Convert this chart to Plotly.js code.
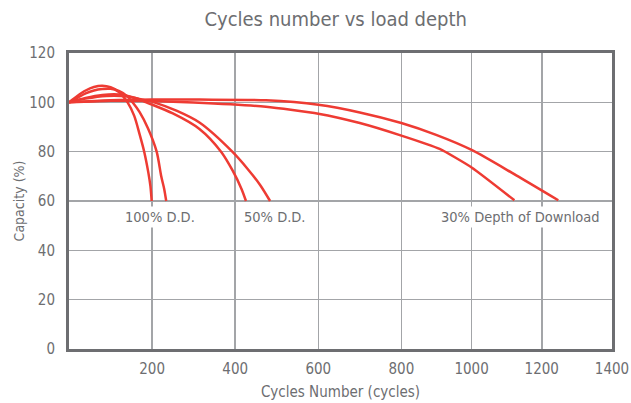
<!DOCTYPE html>
<html>
<head>
<meta charset="utf-8">
<script src="https://cdn.plot.ly/plotly-3.0.1.min.js"></script>
<style>
html, body { margin: 0; padding: 0; background: #ffffff; }
#chart { width: 631px; height: 403px; }
</style>
</head>
<body>
<div id="chart"></div>
<script>
// ---- data ----
const chartTitle = 'Cycles number vs load depth';
const xAxisTitle = 'Cycles Number (cycles)';
const yAxisTitle = 'Capacity (%)';

const xTickValues = [200, 400, 600, 800, 1000, 1200, 1400];
const xTickLabels = ['200', '400', '600', '800', '1000', '1200', '1400'];
const yTickValues = [0, 20, 40, 60, 80, 100, 120];
const yTickLabels = ['0', '20', '40', '60', '80', '100', '120'];

// 100% depth of discharge – two curves
const dd100aCycles = [0, 20, 40, 60, 80, 100, 120, 141, 157, 170, 181, 191, 196, 199];
const dd100aCapacity = [100, 102.6, 104.8, 106.2, 106.7, 106.1, 104.2, 100, 94.5, 87, 80, 71.5, 66, 60];
const dd100bCycles = [0, 20, 40, 60, 80, 100, 120, 140, 153, 170, 190, 211, 222, 229, 234];
const dd100bCapacity = [100, 101.8, 103.6, 104.8, 105.4, 105.5, 104.6, 102.5, 100, 96, 89.5, 80, 70, 65, 60];

// 50% depth of discharge – two curves
const dd50aCycles = [0, 40, 80, 120, 160, 186, 250, 314, 366, 394, 415, 426];
const dd50aCapacity = [100, 101.8, 103, 103.2, 101.8, 100, 95.5, 89.2, 80, 72.3, 65, 60];
const dd50bCycles = [0, 40, 90, 140, 180, 205, 260, 314, 393, 430, 460, 484];
const dd50bCapacity = [100, 101.5, 102.6, 102.4, 101, 100, 96.5, 91.8, 80, 73, 66.5, 60];

// 30% depth of discharge – two curves
const dd30aCycles = [0, 100, 200, 300, 474, 600, 700, 800, 909, 1000, 1122];
const dd30aCapacity = [100, 100.6, 100.5, 99.9, 98.2, 95.4, 91.6, 86.5, 81.1, 73.6, 60.3];
const dd30bCycles = [0, 100, 200, 314, 474, 600, 700, 800, 899, 1000, 1126, 1247];
const dd30bCapacity = [100, 100.8, 101.1, 101.1, 100.8, 99, 95.9, 91.6, 86.8, 80.7, 70.5, 60.3];

// curve labels
const labelTexts = ['100% D.D.', '50% D.D.', '30% Depth of Download'];
const labelCycles = [218, 496, 1140];
const labelCapacity = [53.5, 53.5, 53.5];

// ---- the reference x axis is compressed above 800 cycles ----
const xBreak = 800;
const xScaleAbove = 0.845;
function axisX(v) { return v <= xBreak ? v : xBreak + (v - xBreak) * xScaleAbove; }

const red = '#ee3b33';
const grey = '#6d6e71';
const font = '"DejaVu Sans Condensed", "Liberation Sans Narrow", "Roboto", sans-serif';

function curve(xs, ys, smooth) {
  return {
    type: 'scatter', mode: 'lines',
    x: xs.map(axisX), y: ys,
    line: { color: red, width: 2.5, shape: 'spline', smoothing: smooth },
    hoverinfo: 'skip', showlegend: false
  };
}

const traces = [
  curve(dd100aCycles, dd100aCapacity, 0.8),
  curve(dd100bCycles, dd100bCapacity, 0.8),
  curve(dd50aCycles, dd50aCapacity, 0.8),
  curve(dd50bCycles, dd50bCapacity, 0.8),
  curve(dd30aCycles, dd30aCapacity, 0.5),
  curve(dd30bCycles, dd30bCapacity, 0.8)
];

const annotations = labelTexts.map((t, i) => ({
  text: t, x: axisX(labelCycles[i]), y: labelCapacity[i],
  xref: 'x', yref: 'y', showarrow: false,
  font: { family: font, size: 14.5, color: grey },
  bgcolor: '#ffffff', borderpad: 2
}));

const layout = {
  width: 631, height: 403,
  margin: { l: 69, r: 19, t: 53, b: 54, pad: 0 },
  paper_bgcolor: '#ffffff', plot_bgcolor: '#ffffff',
  font: { family: font, color: grey, size: 15 },
  title: {
    text: chartTitle, font: { family: font, size: 20, color: grey },
    x: 0.532, xanchor: 'center', y: 0.952, yanchor: 'middle'
  },
  xaxis: {
    range: [0, axisX(1400)],
    tickvals: xTickValues.map(axisX), ticktext: xTickLabels,
    showgrid: true, gridcolor: '#a3a5a8', gridwidth: 1.5,
    zeroline: false,
    showline: true, linecolor: grey, linewidth: 3, mirror: true,
    ticks: '', ticklabelstandoff: 4,
    tickfont: { family: font, size: 15, color: grey },
    title: { text: xAxisTitle, font: { family: font, size: 15, color: grey }, standoff: 10 },
    fixedrange: true
  },
  yaxis: {
    range: [0, 120],
    tickvals: yTickValues, ticktext: yTickLabels,
    showgrid: true, gridcolor: '#a3a5a8', gridwidth: 1.5,
    zeroline: false,
    showline: true, linecolor: grey, linewidth: 3, mirror: true,
    ticks: '', ticklabelstandoff: 8,
    tickfont: { family: font, size: 15, color: grey },
    title: { text: yAxisTitle, font: { family: font, size: 14, color: grey }, standoff: 2 },
    fixedrange: true
  },
  annotations: annotations,
  showlegend: false
};

Plotly.newPlot('chart', traces, layout, { displayModeBar: false, staticPlot: true });
</script>
</body>
</html>
